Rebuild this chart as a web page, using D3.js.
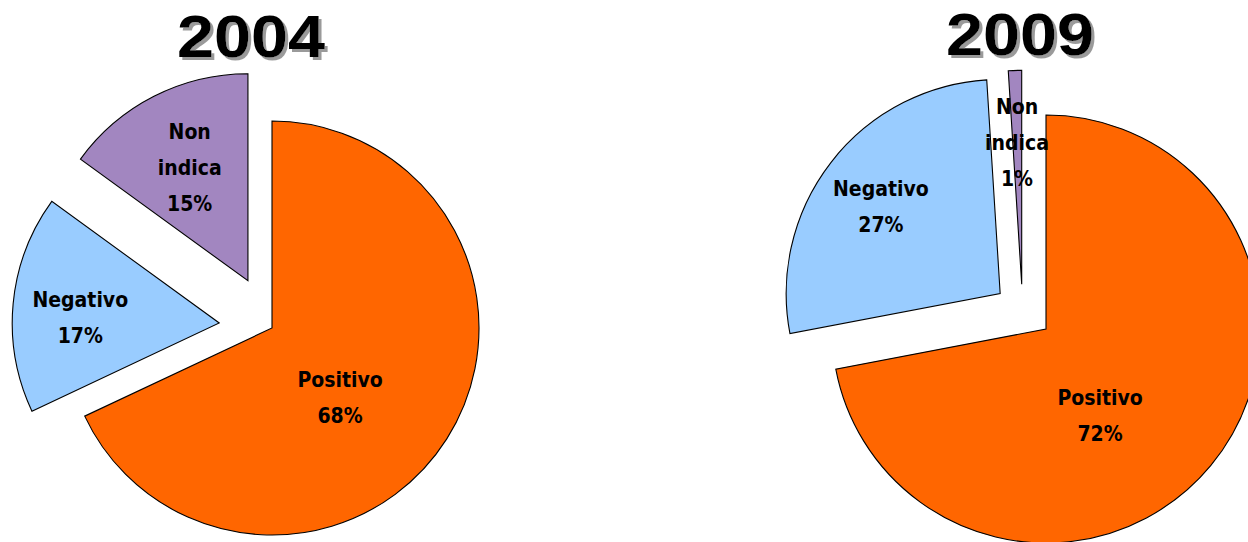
<!DOCTYPE html>
<html>
<head>
<meta charset="utf-8">
<script src="https://cdn.jsdelivr.net/npm/d3@7"></script>
<style>
  html, body { margin: 0; padding: 0; background: #ffffff; }
  svg { display: block; }
</style>
</head>
<body>
<svg id="chart" width="1248" height="542"></svg>
<script>
// ---- data ----
const categories = ["Positivo", "Negativo", "Non indica"];
const years = ["2004", "2009"];
const values2004 = [68, 17, 15];
const values2009 = [72, 27, 1];
const colors = ["#FF6600", "#99CCFF", "#A286C0"];

// ---- layout (styling / placement only) ----
const layouts = [
  { cx: 272, cy: 328, r: 207, titleX: 251, titleY: 57,
    explode: [{ d: 0 }, { d: 53 }, { d: 53 }],
    labels: [{ a: 136, d: 98 }, { a: 272, d: 139 }, { a: 332.7, d: 127 }] },
  { cx: 1046, cy: 329, r: 214, titleX: 1020, titleY: 55,
    explode: [{ d: 0 }, { d: 58 }, { dx: -24.3, dy: -44.7 }],
    labels: [{ a: 148, d: 102 }, { a: 306, d: 147.5 }, { a: 358.1, d: 141.6 }] }
];
const datasets = [values2004, values2009];

const svg = d3.select("#chart");

// drop shadow filter for the titles
const defs = svg.append("defs");
const f = defs.append("filter").attr("id", "shadow")
  .attr("x", "-10%").attr("y", "-20%").attr("width", "130%").attr("height", "150%");
f.append("feOffset").attr("in", "SourceAlpha").attr("dx", 3).attr("dy", 3).attr("result", "off");
f.append("feFlood").attr("flood-color", "#9a9a9a").attr("result", "col");
f.append("feComposite").attr("in", "col").attr("in2", "off").attr("operator", "in").attr("result", "sh");
const fm = f.append("feMerge");
fm.append("feMergeNode").attr("in", "sh");
fm.append("feMergeNode").attr("in", "SourceGraphic");

const pie = d3.pie().sort(null).value(d => d.value);
const rad = deg => deg * Math.PI / 180;

datasets.forEach((vals, ci) => {
  const L = layouts[ci];
  const data = categories.map((c, i) => ({ name: c, value: vals[i], i }));
  const arcs = pie(data);
  const arc = d3.arc().innerRadius(0).outerRadius(L.r);

  const g = svg.append("g").attr("transform", `translate(${L.cx},${L.cy})`);

  // offset of each slice vertex
  const off = arcs.map((a, i) => {
    const e = L.explode[i];
    if (e.dx !== undefined) return [e.dx, e.dy];
    const mid = (a.startAngle + a.endAngle) / 2;
    return [Math.sin(mid) * e.d, -Math.cos(mid) * e.d];
  });

  g.selectAll("path.slice")
    .data(arcs)
    .join("path")
    .attr("class", "slice")
    .attr("transform", (d, i) => `translate(${off[i][0]},${off[i][1]})`)
    .attr("d", arc)
    .attr("fill", d => colors[d.data.i])
    .attr("stroke", "#000")
    .attr("stroke-width", 1.1)
    .attr("stroke-linejoin", "miter");

  // labels
  arcs.forEach((a, i) => {
    const lp = L.labels[i];
    const x = off[i][0] + Math.sin(rad(lp.a)) * lp.d;
    const y = off[i][1] - Math.cos(rad(lp.a)) * lp.d;
    const words = a.data.name.split(" ");
    const lines = words.concat([a.data.value + "%"]);
    const n = lines.length;
    const t = g.append("text")
      .attr("text-anchor", "middle")
      .attr("font-family", "'DejaVu Sans Condensed', 'DejaVu Sans', sans-serif")
      .attr("font-stretch", "condensed")
      .attr("font-weight", "bold")
      .attr("font-size", 21)
      .attr("fill", "#000");
    lines.forEach((ln, k) => {
      t.append("tspan")
        .attr("x", x)
        .attr("y", y + (k - (n - 1) / 2) * 36 + 7)
        .text(ln);
    });
  });

  // title with drop shadow
  svg.append("text")
    .attr("x", L.titleX)
    .attr("y", L.titleY)
    .attr("text-anchor", "middle")
    .attr("font-family", "'Liberation Sans', Arial, sans-serif")
    .attr("font-weight", "bold")
    .attr("font-size", 60)
    .attr("textLength", 148)
    .attr("lengthAdjust", "spacingAndGlyphs")
    .attr("fill", "#000")
    .attr("filter", "url(#shadow)")
    .text(years[ci]);
});
</script>
</body>
</html>
